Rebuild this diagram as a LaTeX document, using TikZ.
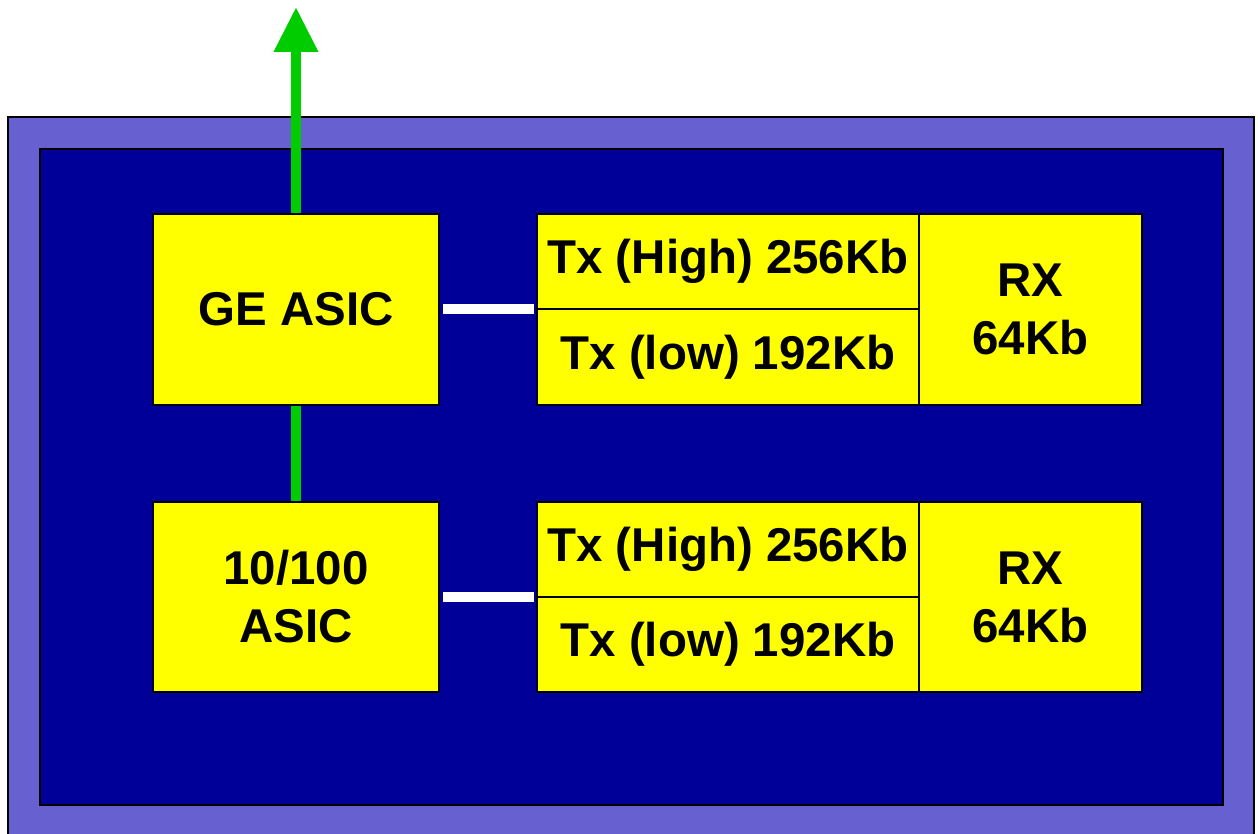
\documentclass[tikz,border=0pt]{standalone}
\usepackage{fontspec}
\setmainfont{Liberation Sans}
\usetikzlibrary{arrows.meta}
\definecolor{borderblue}{RGB}{102,96,208}
\definecolor{navy}{RGB}{0,0,153}
\definecolor{linkgreen}{RGB}{0,204,0}
\definecolor{boxyellow}{RGB}{255,255,0}
\tikzset{
  ybox/.style={draw=black, line width=0.8pt, fill=boxyellow, inner sep=0pt, align=center,
    font=\fontsize{27}{33}\selectfont\bfseries},
  glink/.style={draw=linkgreen, line width=0.2cm},
  wlink/.style={draw=white, line width=0.2cm},
}
\begin{document}
\begin{tikzpicture}[x=0.02cm, y=-0.02cm]
\useasboundingbox (0,0) rectangle (1258,834);
\begin{scope}
\clip (0,0) rectangle (1258,834);
\draw[fill=borderblue, line width=0.6pt] (8,117) rectangle (1254,850);
\draw[fill=navy, line width=0.6pt] (40,149) rectangle (1223,805);
\end{scope}
\node[ybox, minimum width=5.72cm, minimum height=3.82cm] (ge) at (296,309.5) {GE ASIC};
\node[ybox, minimum width=5.72cm, minimum height=3.8cm] (fe) at (296,597) {10/100\\ASIC};
\node[ybox, minimum width=7.64cm, minimum height=1.9cm] (txh1) at (728,261.5) {Tx (High) 256Kb};
\node[ybox, minimum width=7.64cm, minimum height=1.92cm] (txl1) at (728,357) {Tx (low) 192Kb};
\node[ybox, minimum width=4.46cm, minimum height=3.82cm] (rx1) at (1030.5,309.5) {RX\\64Kb};
\node[ybox, minimum width=7.64cm, minimum height=1.9cm] (txh2) at (728,549.5) {Tx (High) 256Kb};
\node[ybox, minimum width=7.64cm, minimum height=1.9cm] (txl2) at (728,644.5) {Tx (low) 192Kb};
\node[ybox, minimum width=4.46cm, minimum height=3.8cm] (rx2) at (1030.5,597) {RX\\64Kb};
\coordinate (up) at (296,7);
\draw[glink, -{Triangle[length=0.9cm, width=0.84cm]}] (ge.north) -- (up);
\draw[glink] (ge.south) -- (fe.north);
\draw[wlink] ([xshift=0.06cm]ge.east) -- ([xshift=-0.04cm]ge.east -| txh1.west);
\draw[wlink] ([xshift=0.06cm]fe.east) -- ([xshift=-0.04cm]fe.east -| txh2.west);
\end{tikzpicture}
\end{document}
